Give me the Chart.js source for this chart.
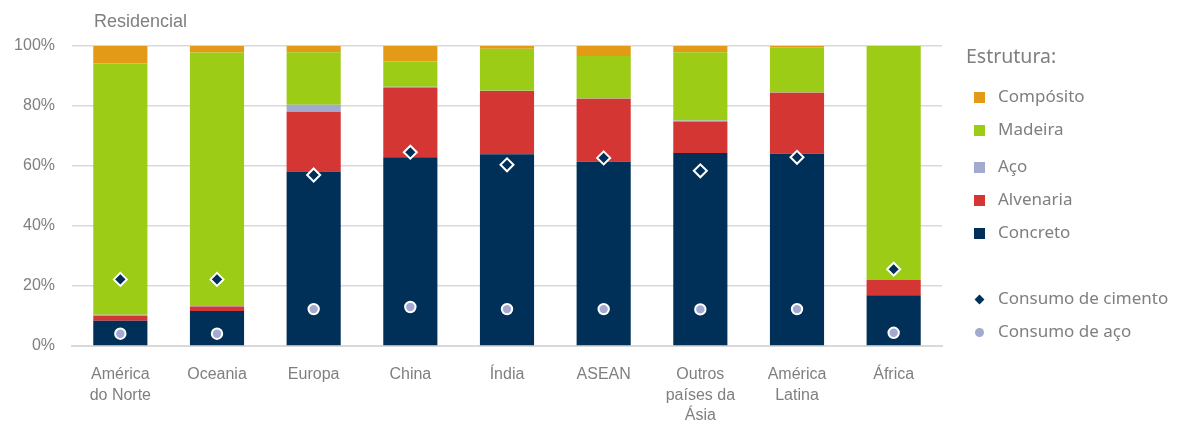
<!DOCTYPE html>
<html>
<head>
<meta charset="utf-8">
<script src="https://cdn.jsdelivr.net/npm/chart.js@4"></script>
<style>
  body { margin: 0; background: #fff; }
  #wrap { position: relative; width: 1178px; height: 430px; }
  #title { position: absolute; left: 94px; top: 11px; font: 18px "Liberation Sans", Arial, sans-serif; color: #7f7f7f; }
  #legend { position: absolute; left: 966px; top: 42px; font-family: "Noto Sans", sans-serif; color: #7f7f7f; }
  #legend .head { font-size: 19.5px; height: 26px; }
  .item { position: absolute; left: 8px; font-size: 17px; white-space: nowrap; }
  .item span.box { position: absolute; left: 0; top: 8px; width: 11px; height: 11px; }
  .item span.txt { position: absolute; left: 24px; top: 0; }
</style>
</head>
<body>
<div id="wrap">
  <canvas id="chart" width="1178" height="430"></canvas>
  <div id="title">Residencial</div>
  <div id="legend"></div>
</div>
<script>
const categories = [["América", "do Norte"], "Oceania", "Europa", "China", "Índia", "ASEAN", ["Outros", "países da", "Ásia"], ["América", "Latina"], "África"];

// structure shares (% of residential buildings)
const concreto  = [8.4, 11.7, 58.2, 62.9, 63.9, 61.4, 64.3, 64.1, 16.9];
const alvenaria = [1.7, 1.5, 19.9, 23.3, 21.1, 21.0, 10.5, 20.3, 5.1];
const aco       = [0.3, 0.5, 2.3, 0.2, 0.1, 0.1, 0.4, 0.1, 0];
const madeira   = [83.8, 84.1, 17.5, 8.4, 14.0, 14.2, 22.7, 15.1, 78.0];
const composito = [5.8, 2.2, 2.1, 5.2, 0.9, 3.3, 2.1, 0.4, 0];

// consumption markers
const consumoCimento = [22.2, 22.2, 57.0, 64.6, 60.4, 62.7, 58.4, 62.9, 25.6];
const consumoAco     = [4.1, 4.1, 12.3, 13.0, 12.3, 12.3, 12.2, 12.3, 4.4];

const yTicks = [0, 20, 40, 60, 80, 100];

const colors = {
    concreto: '#003057',
    alvenaria: '#d43634',
    aco: '#a2aad0',
    madeira: '#9dcc17',
    composito: '#e39a17'
};

const grey = '#7f7f7f';
const axisFont = { family: '"Liberation Sans", Arial, sans-serif', size: 16, lineHeight: 1.3 };

function barSet(label, data, color) {
    return {
        type: 'bar',
        label: label,
        data: data,
        backgroundColor: color,
        stack: 'estrutura',
        order: 1,
        categoryPercentage: 1,
        barPercentage: 0.56
    };
}

const ctx = document.getElementById('chart').getContext('2d');

const chart = new Chart(ctx, {
    data: {
        labels: categories,
        datasets: [
            {
                type: 'line',
                label: 'Consumo de cimento',
                data: consumoCimento,
                showLine: false,
                stack: 'cimento',
                order: 0,
                pointStyle: 'rectRot',
                pointRadius: 6.5,
                pointBackgroundColor: colors.concreto,
                pointBorderColor: '#ffffff',
                pointBorderWidth: 2
            },
            {
                type: 'line',
                label: 'Consumo de aço',
                data: consumoAco,
                showLine: false,
                stack: 'acoConsumo',
                order: 0,
                pointStyle: 'circle',
                pointRadius: 5.2,
                pointBackgroundColor: colors.aco,
                pointBorderColor: '#ffffff',
                pointBorderWidth: 2
            },
            barSet('Concreto', concreto, colors.concreto),
            barSet('Alvenaria', alvenaria, colors.alvenaria),
            barSet('Aço', aco, colors.aco),
            barSet('Madeira', madeira, colors.madeira),
            barSet('Compósito', composito, colors.composito)
        ]
    },
    options: {
        responsive: false,
        animation: false,
        layout: { padding: { left: 0, right: 236, top: 46, bottom: 0 } },
        plugins: {
            legend: { display: false },
            tooltip: { enabled: false }
        },
        scales: {
            x: {
                stacked: true,
                grid: { display: false, drawTicks: false },
                border: { color: '#d9d9d9', width: 2 },
                ticks: { color: grey, font: axisFont, padding: 18, maxRotation: 0, autoSkip: false },
                afterFit: (scale) => { scale.height = 84; }
            },
            y: {
                stacked: true,
                min: 0,
                max: 100,
                afterBuildTicks: (scale) => { scale.ticks = yTicks.map(v => ({ value: v })); },
                grid: { color: '#d9d9d9', lineWidth: 1.5, drawTicks: false },
                border: { display: false },
                ticks: { color: grey, font: axisFont, padding: 17, callback: (v) => v + '%' },
                afterFit: (scale) => { scale.width = 72; }
            }
        }
    }
});

// HTML legend
const legendItems = [
    { label: 'Compósito', color: colors.composito, y: 42, shape: 'box' },
    { label: 'Madeira', color: colors.madeira, y: 75, shape: 'box' },
    { label: 'Aço', color: colors.aco, y: 112, shape: 'box' },
    { label: 'Alvenaria', color: colors.alvenaria, y: 145, shape: 'box' },
    { label: 'Concreto', color: colors.concreto, y: 178, shape: 'box' },
    { label: 'Consumo de cimento', color: colors.concreto, y: 244, shape: 'diamond' },
    { label: 'Consumo de aço', color: colors.aco, y: 277, shape: 'dot' }
];

const legendEl = document.getElementById('legend');
legendEl.innerHTML = '<div class="head">Estrutura:</div>';
legendItems.forEach(it => {
    const div = document.createElement('div');
    div.className = 'item';
    div.style.top = it.y + 'px';
    let marker = '';
    if (it.shape === 'box') {
        marker = '<span class="box" style="background:' + it.color + '"></span>';
    } else if (it.shape === 'diamond') {
        marker = '<span class="box" style="background:' + it.color + ';width:7px;height:7px;left:2px;top:10px;transform:rotate(45deg)"></span>';
    } else {
        marker = '<span class="box" style="background:' + it.color + ';width:9px;height:9px;left:1px;top:9px;border-radius:50%"></span>';
    }
    div.innerHTML = marker + '<span class="txt">' + it.label + '</span>';
    legendEl.appendChild(div);
});
</script>
</body>
</html>
